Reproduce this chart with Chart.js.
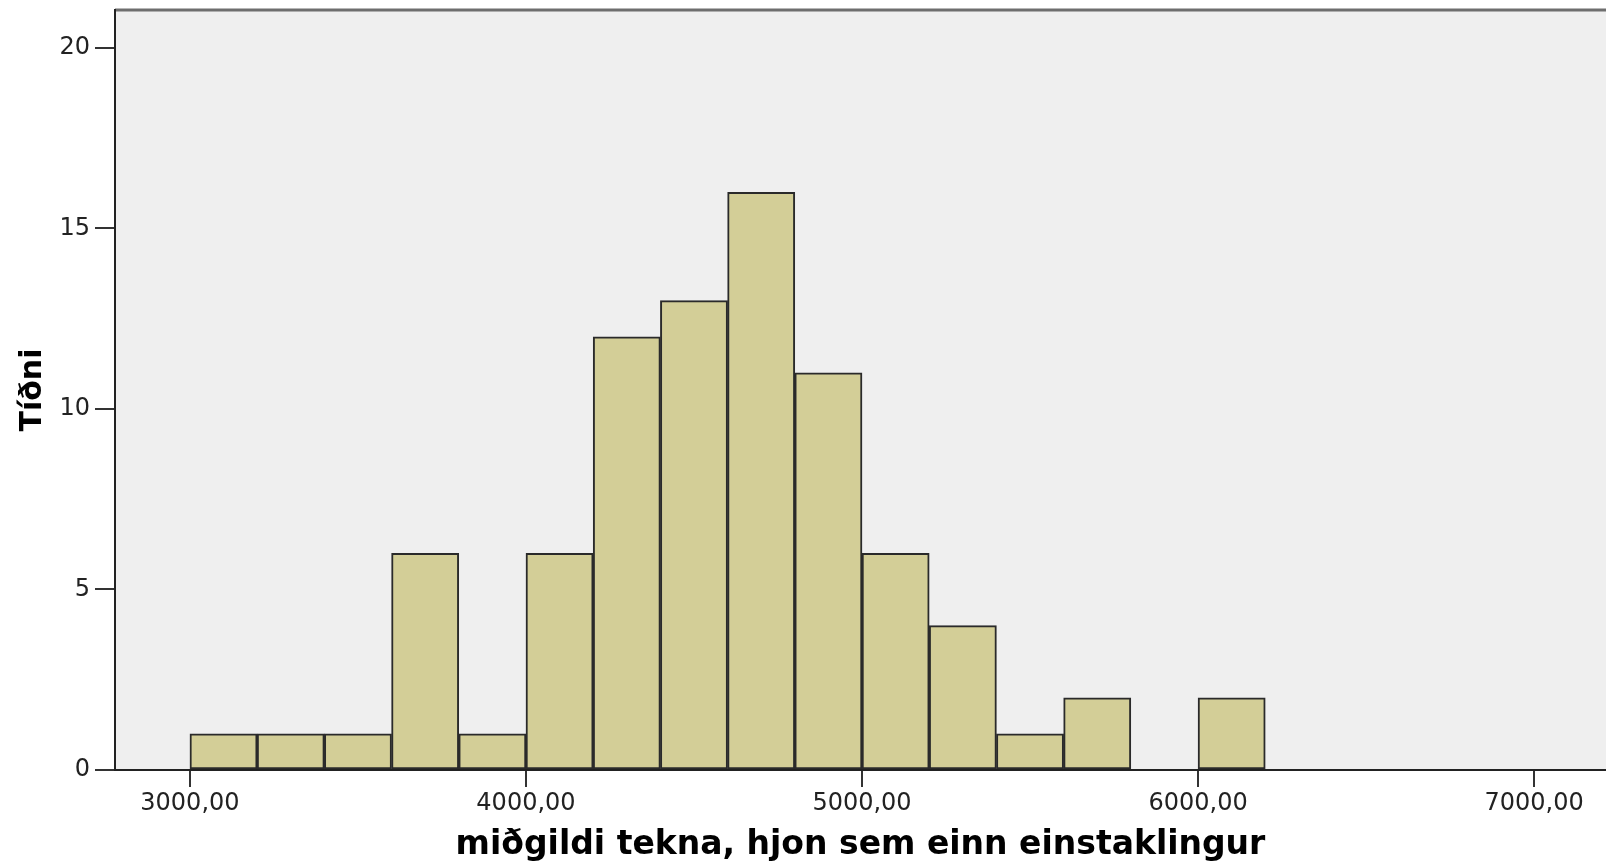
<!DOCTYPE html>
<html>
<head>
<meta charset="utf-8">
<script src="https://cdn.jsdelivr.net/npm/chart.js@4.4.1/dist/chart.umd.min.js"></script>
<style>
  html, body { margin: 0; padding: 0; background: #fff; }
  #wrap { width: 1606px; height: 867px; }
</style>
</head>
<body>
<div id="wrap"><canvas id="histChart" width="1606" height="867"></canvas></div>
<script>
// histogram bins (edges) and frequencies
const binEdges = [3000, 3200, 3400, 3600, 3800, 4000, 4200, 4400, 4600, 4800, 5000, 5200, 5400, 5600, 5800, 6000, 6200];
const counts = [1, 1, 1, 6, 1, 6, 12, 13, 16, 11, 6, 4, 1, 2, 0, 2];
const xTicks = [3000, 4000, 5000, 6000, 7000];
const yTicks = [0, 5, 10, 15, 20];
const xTitle = 'miðgildi tekna, hjon sem einn einstaklingur';
const yTitle = 'Tíðni';

const barData = counts.map((c, i) => ({ x: (binEdges[i] + binEdges[i + 1]) / 2, y: c }));

// grey plot area + top frame line
const plotFrame = {
    id: 'plotFrame',
    beforeDraw(chart) {
        const a = chart.chartArea;
        const c = chart.ctx;
        c.save();
        c.fillStyle = '#efefef';
        c.fillRect(a.left, a.top, a.right - a.left, a.bottom - a.top);
        c.strokeStyle = '#6e6e6e';
        c.lineWidth = 3;
        c.beginPath();
        c.moveTo(a.left, a.top);
        c.lineTo(a.right, a.top);
        c.stroke();
        c.restore();
    }
};

const ctx = document.getElementById('histChart').getContext('2d');
const histChart = new Chart(ctx, {
    type: 'bar',
    data: {
        datasets: [{
            label: yTitle,
            data: barData,
            backgroundColor: '#d3ce97',
            borderColor: '#2a2a2a',
            borderWidth: 2,
            borderSkipped: false,
            barPercentage: 1,
            categoryPercentage: 1
        }]
    },
    options: {
        responsive: false,
        animation: false,
        layout: { padding: { top: 10, right: 0, left: 0, bottom: 0 } },
        plugins: {
            legend: { display: false },
            tooltip: { enabled: false }
        },
        scales: {
            x: {
                type: 'linear',
                offset: false,
                min: 2777,
                max: 7214,
                afterBuildTicks: scale => { scale.ticks = xTicks.map(v => ({ value: v })); },
                afterFit: scale => { scale.height = 97; },
                border: { display: true, color: '#222', width: 2 },
                grid: { offset: false, drawOnChartArea: false, drawTicks: true, tickLength: 17, color: '#333', lineWidth: 2 },
                ticks: {
                    color: '#222',
                    padding: 2,
                    maxRotation: 0,
                    font: { family: 'DejaVu Sans', size: 24 },
                    callback: v => v.toFixed(2).replace('.', ',')
                },
                title: {
                    display: true,
                    text: xTitle,
                    color: '#000',
                    padding: { top: 0, bottom: 2 },
                    font: { family: 'DejaVu Sans', size: 33, weight: 'bold' }
                }
            },
            y: {
                min: 0,
                max: 21.05,
                afterBuildTicks: scale => { scale.ticks = yTicks.map(v => ({ value: v })); },
                afterFit: scale => {
                    scale.width = 115;
                    scale.paddingTop = 0;
                    scale.paddingBottom = 0;
                },
                border: { display: true, color: '#222', width: 2 },
                grid: { drawOnChartArea: false, drawTicks: true, tickLength: 20, color: '#333', lineWidth: 2 },
                ticks: {
                    color: '#222',
                    padding: 5,
                    font: { family: 'DejaVu Sans', size: 24 }
                },
                title: {
                    display: true,
                    text: yTitle,
                    color: '#000',
                    padding: { top: 15, bottom: 0 },
                    font: { family: 'DejaVu Sans', size: 30, weight: 'bold' }
                }
            }
        }
    },
    plugins: [plotFrame]
});
</script>
</body>
</html>
